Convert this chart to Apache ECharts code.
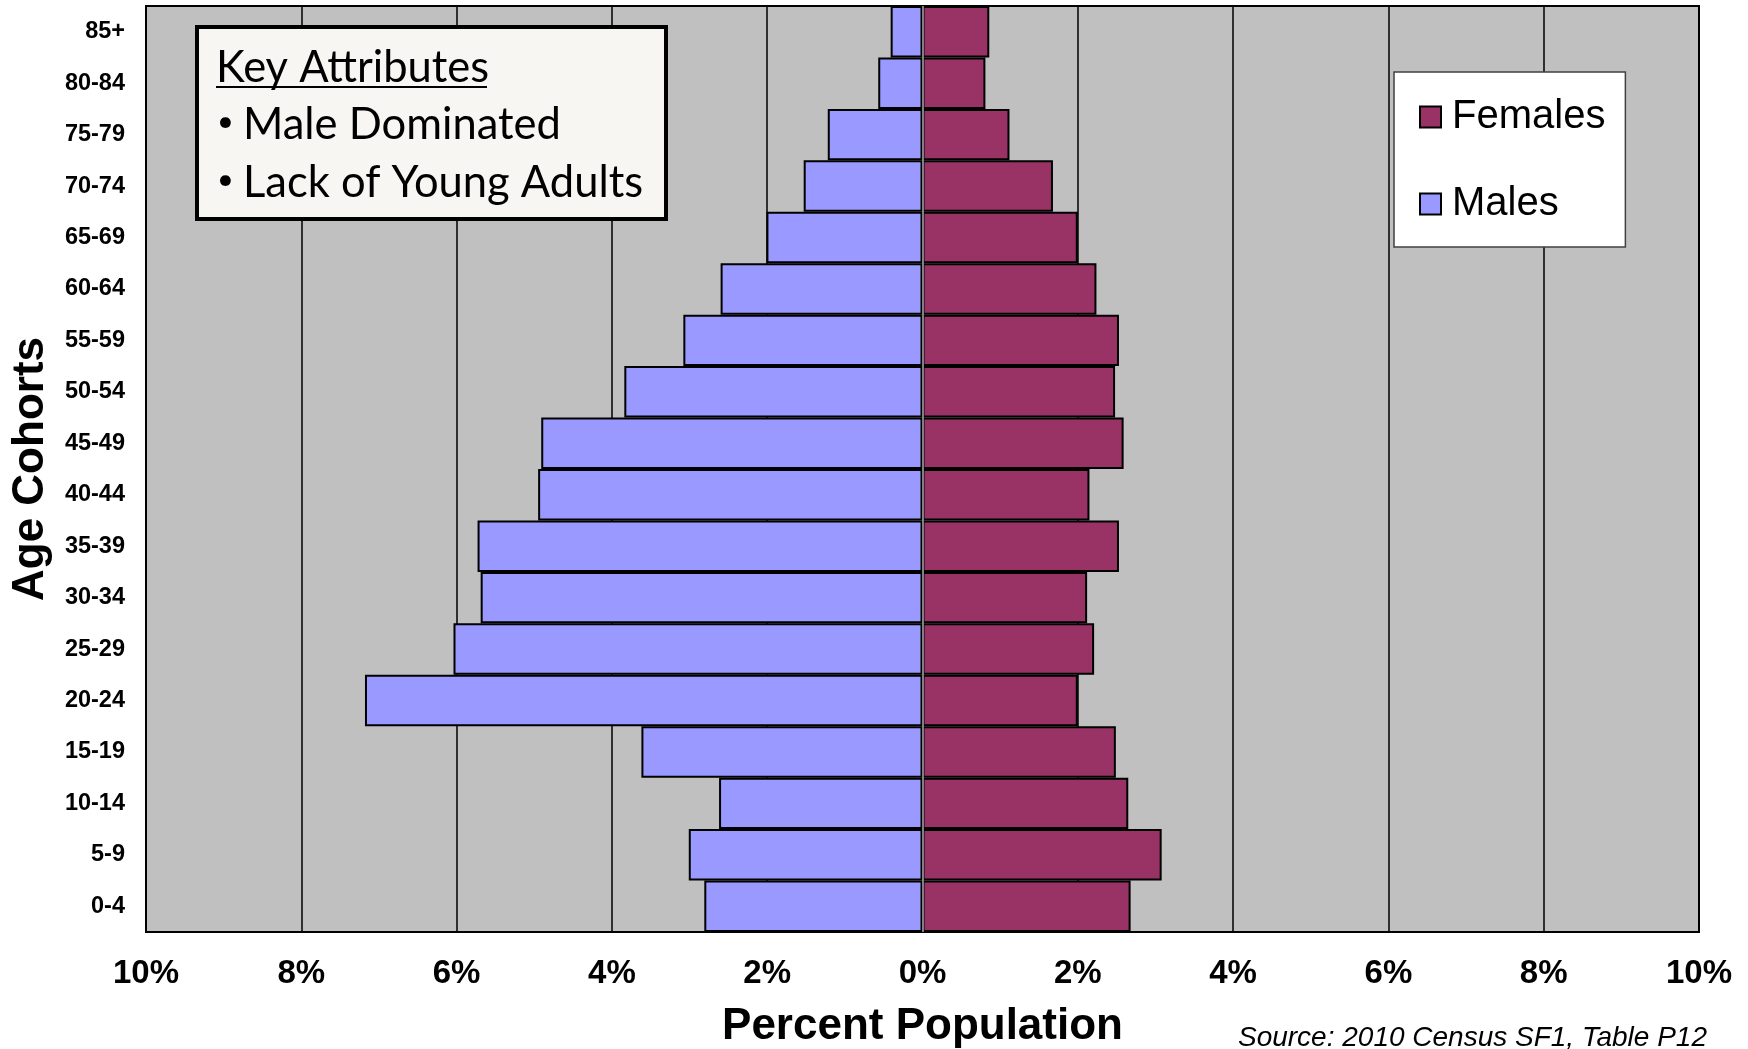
<!DOCTYPE html>
<html>
<head>
<meta charset="utf-8">
<script src="https://cdn.jsdelivr.net/npm/echarts@6/dist/echarts.min.js"></script>
<style>
html,body{margin:0;padding:0;background:#fff;overflow:hidden;}
#chart{width:1748px;height:1049px;}
</style>
</head>
<body>
<div id="chart"></div>
<script>
const categories = ['0-4','5-9','10-14','15-19','20-24','25-29','30-34','35-39','40-44','45-49','50-54','55-59','60-64','65-69','70-74','75-79','80-84','85+'];
const males = [2.81, 3.01, 2.62, 3.62, 7.18, 6.04, 5.69, 5.73, 4.95, 4.91, 3.84, 3.08, 2.60, 2.01, 1.53, 1.22, 0.57, 0.41];
const females = [2.68, 3.08, 2.65, 2.49, 2.00, 2.21, 2.12, 2.53, 2.15, 2.59, 2.48, 2.53, 2.24, 2.00, 1.68, 1.12, 0.81, 0.86];
const xTicks = [-10, -8, -6, -4, -2, 0, 2, 4, 6, 8, 10];
const keyTitle = 'Key Attributes';
const keyLines = ['Male Dominated', 'Lack of Young Adults'];
const sourceText = 'Source: 2010 Census SF1, Table P12';

const chart = echarts.init(document.getElementById('chart'), null, {renderer: 'canvas'});
const sans = '"Liberation Sans", Arial, sans-serif';
const keyFont = 'Lato, "Open Sans", sans-serif';

chart.setOption({
  animation: false,
  backgroundColor: '#ffffff',
  grid: {
    left: 146, top: 6, width: 1553, height: 926,
    outerBoundsMode: 'none', containLabel: false,
    show: true, backgroundColor: '#C0C0C0', borderColor: '#000000', borderWidth: 2
  },
  legend: {
    data: ['Females', 'Males'],
    orient: 'vertical',
    icon: 'rect',
    left: 1394, top: 72,
    padding: [25, 20, 23, 25],
    itemWidth: 21, itemHeight: 21,
    itemGap: 47,
    backgroundColor: '#ffffff',
    borderColor: '#404040', borderWidth: 1.5,
    textStyle: {fontFamily: sans, fontSize: 40, color: '#000', lineHeight: 40, padding: [0, 0, 0, 6]}
  },
  xAxis: {
    type: 'value', min: xTicks[0], max: xTicks[xTicks.length - 1], interval: 2,
    name: 'Percent Population', nameLocation: 'middle', nameGap: 95,
    nameTextStyle: {fontFamily: sans, fontWeight: 'bold', fontSize: 44, color: '#000', verticalAlign: 'middle'},
    axisLine: {show: false},
    axisTick: {show: false},
    axisLabel: {
      fontFamily: sans, fontWeight: 'bold', fontSize: 33, color: '#000',
      margin: 42, verticalAlign: 'middle',
      formatter: v => Math.abs(v) + '%'
    },
    splitLine: {show: true, lineStyle: {color: '#000000', width: 1.5}}
  },
  yAxis: {
    type: 'category', data: categories,
    name: 'Age Cohorts', nameLocation: 'middle', nameGap: 115,
    nameTextStyle: {fontFamily: sans, fontWeight: 'bold', fontSize: 44, color: '#000', verticalAlign: 'middle'},
    axisLine: {show: false, onZero: false},
    axisTick: {show: false},
    axisLabel: {fontFamily: sans, fontWeight: 'bold', fontSize: 23.5, color: '#000', margin: 21}
  },
  series: [
    {
      name: 'Males', type: 'bar', stack: 'pop',
      data: males.map(v => -v),
      barCategoryGap: 0,
      itemStyle: {color: '#9999FF', borderColor: '#000000', borderWidth: 2},
      markLine: {
        silent: true, symbol: 'none', label: {show: false},
        lineStyle: {color: '#808080', width: 2, type: 'solid'},
        data: [{xAxis: 0}]
      }
    },
    {
      name: 'Females', type: 'bar', stack: 'pop',
      data: females,
      barCategoryGap: 0,
      itemStyle: {color: '#993366', borderColor: '#000000', borderWidth: 2}
    }
  ],
  graphic: [
    {
      type: 'rect', left: 195, top: 25, z: 100,
      shape: {width: 469, height: 192},
      style: {fill: '#F7F6F2', stroke: '#000000', lineWidth: 4}
    },
    {
      type: 'text', x: 216, y: 68, z: 101,
      style: {text: keyTitle, font: '43.5px ' + keyFont, fill: '#000', verticalAlign: 'middle', align: 'left'}
    },
    {
      type: 'line', z: 101,
      shape: {x1: 216, y1: 87, x2: 487, y2: 87},
      style: {stroke: '#000', lineWidth: 2}
    },
    {
      type: 'text', x: 217, y: 122, z: 101,
      style: {text: '\u2022', font: '29px ' + keyFont, fill: '#000', verticalAlign: 'middle', align: 'left'}
    },
    {
      type: 'text', x: 243, y: 125, z: 101,
      style: {text: keyLines[0], font: '43.5px ' + keyFont, fill: '#000', verticalAlign: 'middle', align: 'left'}
    },
    {
      type: 'text', x: 217, y: 180, z: 101,
      style: {text: '\u2022', font: '29px ' + keyFont, fill: '#000', verticalAlign: 'middle', align: 'left'}
    },
    {
      type: 'text', x: 243, y: 183, z: 101,
      style: {text: keyLines[1], font: '43.5px ' + keyFont, fill: '#000', verticalAlign: 'middle', align: 'left'}
    },
    {
      type: 'text', x: 1707, y: 1038, z: 101,
      style: {text: sourceText, font: 'italic 28px ' + sans, fill: '#000', verticalAlign: 'middle', align: 'right'}
    }
  ]
});
</script>
</body>
</html>
